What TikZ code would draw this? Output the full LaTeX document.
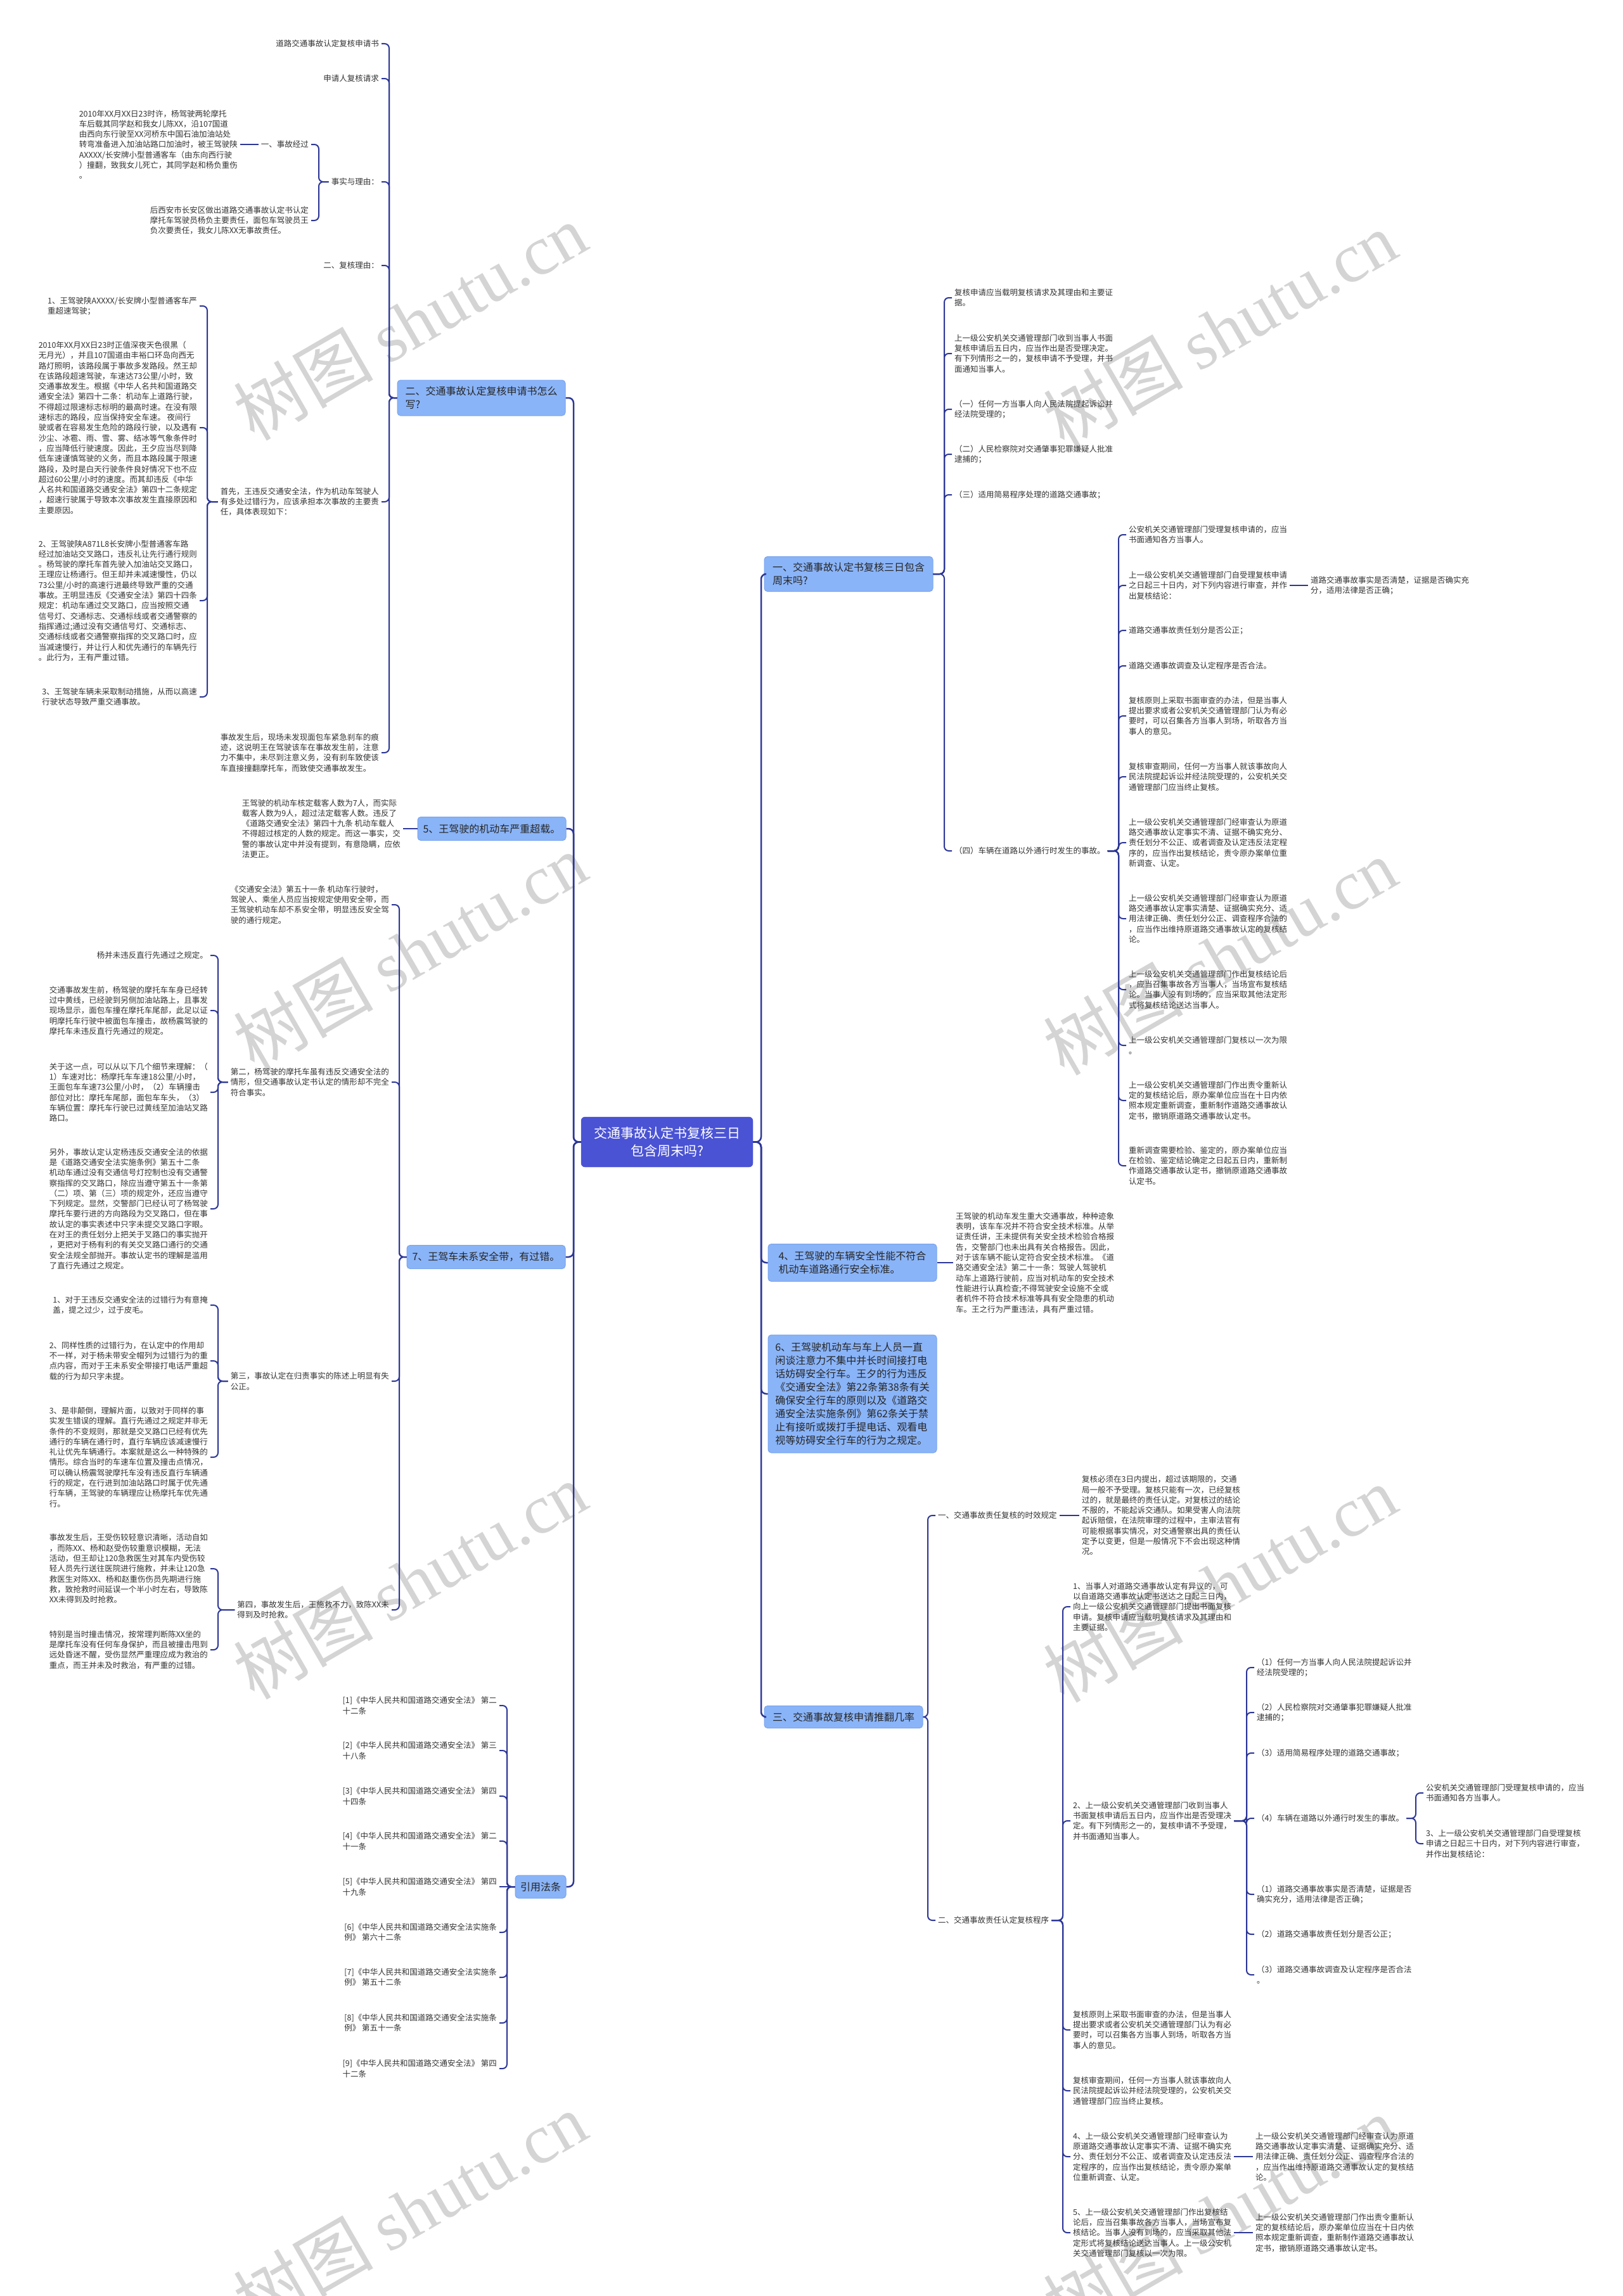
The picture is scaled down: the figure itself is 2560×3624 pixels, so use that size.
\documentclass[tikz,border=0pt]{standalone}
\usepackage{fontspec}
\setmainfont{Noto Sans CJK SC}
\newfontfamily\wmlatin{Liberation Serif}
\definecolor{lineC}{HTML}{2D3796}
\definecolor{nodeC}{HTML}{8AB4F8}
\definecolor{nodeB}{HTML}{79A4EE}
\definecolor{mainC}{HTML}{4A53D4}
\definecolor{textC}{HTML}{333333}
\definecolor{wmC}{HTML}{D4D4D4}
\newcommand\myLC[3]{\draw[conn] (#1.west) -- (#2 |- #1.west) -- (#2 |- #3.east) -- (#3.east);}
\newcommand\myRC[3]{\draw[conn] (#1.east) -- (#2 |- #1.east) -- (#2 |- #3.west) -- (#3.west);}
\begin{document}
\begin{tikzpicture}[x=1pt,y=-1pt,
  conn/.style={draw=lineC, line width=2pt, rounded corners=7pt},
  trunk/.style={draw=lineC, line width=2.5pt, rounded corners=8pt},
  leaf/.style={font=\fontsize{12.5}{16.3}\selectfont, text=textC, align=left, inner xsep=4pt, inner ysep=2pt},
  leafL/.style={leaf, anchor=east},
  leafR/.style={leaf, anchor=west},
  topic/.style={fill=nodeC, draw=nodeB, line width=1pt, rounded corners=5pt, font=\fontsize{16}{21}\selectfont, text=black!85, align=left, inner sep=0pt},
  root/.style={fill=mainC, draw=mainC, rounded corners=6pt, font=\fontsize{21}{28}\selectfont, text=white, align=center, inner sep=0pt},
  wm/.style={text=wmC, rotate=30, font=\fontsize{110}{120}\selectfont}
]
\useasboundingbox[fill=white] (0,0) rectangle (2560,3624);

% watermarks
\foreach \wx/\wy [count=\i] in {647/508,1925/520,647/1502,1925/1510,647/2495,1925/2500,647/3489,1925/3495}
  \node[wm] (wm\i) at (\wx,\wy) {树图 {\wmlatin shutu.cn}};

% coordinates of vertical lines
\coordinate (vL) at (905,0);
\coordinate (vRt) at (1201,0);
\coordinate (v2) at (614,0);
\coordinate (v3) at (503,0);
\coordinate (v5) at (327,0);
\coordinate (v7) at (630,0);
\coordinate (v8) at (344,0);
\coordinate (vR) at (800,0);
\coordinate (v1) at (1490,0);
\coordinate (v6) at (1765,0);
\coordinate (v9) at (1464,0);
\coordinate (v10) at (1677,0);
\coordinate (v11) at (1967,0);
\coordinate (v12) at (2234,0);

% root
\node[root, minimum width=271pt, minimum height=79pt] (main) at (1052.5,1802.5) {交通事故认定书复核三日\\包含周末吗?};

% topics left
\node[topic, minimum width=265pt, minimum height=56pt] (n2) at (759.5,628) {二、交通事故认定复核申请书怎么\\写?};
\node[topic, minimum width=234pt, minimum height=37pt] (n5) at (776,1308) {5、王驾驶的机动车严重超载。};
\node[topic, minimum width=250pt, minimum height=37pt] (n7) at (767,1984) {7、王驾车未系安全带，有过错。};
\node[topic, minimum width=80pt, minimum height=36pt] (nR) at (853,2978) {引用法条};
% topics right
\node[topic, minimum width=266pt, minimum height=55pt] (n1) at (1339,906) {一、交通事故认定书复核三日包含\\周末吗?};
\node[topic, minimum width=266pt, minimum height=59pt] (n4) at (1345,1993) {4、王驾驶的车辆安全性能不符合\\机动车道路通行安全标准。};
\node[topic, minimum width=266pt, minimum height=186pt] (n6) at (1345,2200) {6、王驾驶机动车与车上人员一直\\闲谈注意力不集中并长时间接打电\\话妨碍安全行车。王夕的行为违反\\《交通安全法》第22条第38条有关\\确保安全行车的原则以及《道路交\\通安全法实施条例》第62条关于禁\\止有接听或拨打手提电话、观看电\\视等妨碍安全行车的行为之规定。};
\node[topic, minimum width=250pt, minimum height=35pt] (n3) at (1331,2710) {三、交通事故复核申请推翻几率};

% ---------- left: node 二 ----------
\node[leafL] (a1) at (602,69) {道路交通事故认定复核申请书};
\node[leafL] (a2) at (602,124) {申请人复核请求};
\node[leafL] (a3) at (602,287) {事实与理由：};
\node[leafL] (a3a) at (491,228) {一、事故经过};
\node[leafL] (a3a1) at (379,228) {2010年XX月XX日23时许，杨驾驶两轮摩托\\车后载其同学赵和我女儿陈XX，沿107国道\\由西向东行驶至XX河桥东中国石油加油站处\\转弯准备进入加油站路口加油时，被王驾驶陕\\AXXXX/长安牌小型普通客车（由东向西行驶\\）撞翻，致我女儿死亡，其同学赵和杨负重伤\\。};
\node[leafL] (a3b) at (491,348) {后西安市长安区做出道路交通事故认定书认定\\摩托车驾驶员杨负主要责任，面包车驾驶员王\\负次要责任，我女儿陈XX无事故责任。};
\node[leafL] (a4) at (602,419) {二、复核理由：};
\node[leafL] (a5) at (602,792) {首先，王违反交通安全法，作为机动车驾驶人\\有多处过错行为，应该承担本次事故的主要责\\任，具体表现如下：};
\node[leafL] (a5a) at (315,483) {1、王驾驶陕AXXXX/长安牌小型普通客车严\\重超速驾驶；};
\node[leafL] (a5b) at (315,675) {2010年XX月XX日23时正值深夜天色很黑（\\无月光），并且107国道由丰裕口环岛向西无\\路灯照明，该路段属于事故多发路段。然王却\\在该路段超速驾驶，车速达73公里/小时，致\\交通事故发生。根据《中华人名共和国道路交\\通安全法》第四十二条：机动车上道路行驶，\\不得超过限速标志标明的最高时速。在没有限\\速标志的路段，应当保持安全车速。 夜间行\\驶或者在容易发生危险的路段行驶，以及遇有\\沙尘、冰雹、雨、雪、雾、结冰等气象条件时\\，应当降低行驶速度。因此，王夕应当尽到降\\低车速谨慎驾驶的义务，而且本路段属于限速\\路段，及时是白天行驶条件良好情况下也不应\\超过60公里/小时的速度。而其却违反《中华\\人名共和国道路交通安全法》第四十二条规定\\，超速行驶属于导致本次事故发生直接原因和\\主要原因。};
\node[leafL] (a5c) at (315,948) {2、王驾驶陕A871L8长安牌小型普通客车路\\经过加油站交叉路口，违反礼让先行通行规则\\。杨驾驶的摩托车首先驶入加油站交叉路口，\\王理应让杨通行。但王却并未减速慢性，仍以\\73公里/小时的高速行进最终导致严重的交通\\事故。王明显违反《交通安全法》第四十四条\\规定：机动车通过交叉路口，应当按照交通\\信号灯、交通标志、交通标线或者交通警察的\\指挥通过;通过没有交通信号灯、交通标志、\\交通标线或者交通警察指挥的交叉路口时，应\\当减速慢行，并让行人和优先通行的车辆先行\\。此行为，王有严重过错。};
\node[leafL] (a5d) at (315,1100) {3、王驾驶车辆未采取制动措施，从而以高速\\行驶状态导致严重交通事故。};
\node[leafL] (a6) at (602,1188) {事故发生后，现场未发现面包车紧急刹车的痕\\迹，这说明王在驾驶该车在事故发生前，注意\\力不集中，未尽到注意义务，没有刹车致使该\\车直接撞翻摩托车，而致使交通事故发生。};

% ---------- left: node 5 ----------
\node[leafL] (a7) at (636,1308) {王驾驶的机动车核定载客人数为7人，而实际\\载客人数为9人，超过法定载客人数。违反了\\《道路交通安全法》第四十九条 机动车载人\\不得超过核定的人数的规定。而这一事实，交\\警的事故认定中并没有提到，有意隐瞒，应依\\法更正。};

% ---------- left: node 7 ----------
\node[leafL] (b1) at (618,1428) {《交通安全法》第五十一条 机动车行驶时，\\驾驶人、乘坐人员应当按规定使用安全带，而\\王驾驶机动车却不系安全带，明显违反安全驾\\驶的通行规定。};
\node[leafL] (b2) at (618,1708) {第二，杨驾驶的摩托车虽有违反交通安全法的\\情形，但交通事故认定书认定的情形却不完全\\符合事实。};
\node[leafL] (b2a) at (332,1508) {杨并未违反直行先通过之规定。};
\node[leafL] (b2b) at (332,1595) {交通事故发生前，杨驾驶的摩托车车身已经转\\过中黄线，已经驶到另侧加油站路上，且事发\\现场显示，面包车撞在摩托车尾部，此足以证\\明摩托车行驶中被面包车撞击，故杨震驾驶的\\摩托车未违反直行先通过的规定。};
\node[leafL] (b2c) at (332,1724) {关于这一点，可以从以下几个细节来理解：（\\1）车速对比：杨摩托车车速18公里/小时，\\王面包车车速73公里/小时，（2）车辆撞击\\部位对比：摩托车尾部，面包车车头，（3）\\车辆位置：摩托车行驶已过黄线至加油站叉路\\路口。};
\node[leafL] (b2d) at (332,1908) {另外，事故认定认定杨违反交通安全法的依据\\是《道路交通安全法实施条例》第五十二条\\机动车通过没有交通信号灯控制也没有交通警\\察指挥的交叉路口，除应当遵守第五十一条第\\（二）项、第（三）项的规定外，还应当遵守\\下列规定。显然，交警部门已经认可了杨驾驶\\摩托车要行进的方向路段为交叉路口，但在事\\故认定的事实表述中只字未提交叉路口字眼。\\在对王的责任划分上把关于叉路口的事实抛开\\，更把对于杨有利的有关交叉路口通行的交通\\安全法规全部抛开。事故认定书的理解是滥用\\了直行先通过之规定。};
\node[leafL] (b3) at (618,2180) {第三，事故认定在归责事实的陈述上明显有失\\公正。};
\node[leafL] (b3a) at (332,2060) {1、对于王违反交通安全法的过错行为有意掩\\盖，提之过少，过于皮毛。};
\node[leafL] (b3b) at (332,2148) {2、同样性质的过错行为，在认定中的作用却\\不一样，对于杨未带安全帽列为过错行为的重\\点内容，而对于王未系安全带接打电话严重超\\载的行为却只字未提。};
\node[leafL] (b3c) at (332,2300) {3、是非颠倒，理解片面，以致对于同样的事\\实发生错误的理解。直行先通过之规定并非无\\条件的不变规则，那就是交叉路口已经有优先\\通行的车辆在通行时，直行车辆应该减速慢行\\礼让优先车辆通行。本案就是这么一种特殊的\\情形。综合当时的车速车位置及撞击点情况，\\可以确认杨震驾驶摩托车没有违反直行车辆通\\行的规定，在行进到加油站路口时属于优先通\\行车辆，王驾驶的车辆理应让杨摩托车优先通\\行。};
\node[leafL] (b4) at (618,2541) {第四，事故发生后，王施救不力，致陈XX未\\得到及时抢救。};
\node[leafL] (b4a) at (332,2476) {事故发生后，王受伤较轻意识清晰，活动自如\\，而陈XX、杨和赵受伤较重意识模糊，无法\\活动，但王却让120急救医生对其车内受伤较\\轻人员先行送往医院进行施救，并未让120急\\救医生对陈XX、杨和赵重伤伤员先期进行施\\救，致抢救时间延误一个半小时左右，导致陈\\XX未得到及时抢救。};
\node[leafL] (b4b) at (332,2604) {特别是当时撞击情况，按常理判断陈XX坐的\\是摩托车没有任何车身保护，而且被撞击甩到\\远处昏迷不醒，受伤显然严重理应成为救治的\\重点，而王并未及时救治，有严重的过错。};

% ---------- left: references ----------
\node[leafL] (r1) at (788,2692) {[1]《中华人民共和国道路交通安全法》 第二\\十二条};
\node[leafL] (r2) at (788,2763) {[2]《中华人民共和国道路交通安全法》 第三\\十八条};
\node[leafL] (r3) at (788,2835) {[3]《中华人民共和国道路交通安全法》 第四\\十四条};
\node[leafL] (r4) at (788,2906) {[4]《中华人民共和国道路交通安全法》 第二\\十一条};
\node[leafL] (r5) at (788,2978) {[5]《中华人民共和国道路交通安全法》 第四\\十九条};
\node[leafL] (r6) at (788,3050) {[6]《中华人民共和国道路交通安全法实施条\\例》 第六十二条};
\node[leafL] (r7) at (788,3121) {[7]《中华人民共和国道路交通安全法实施条\\例》 第五十二条};
\node[leafL] (r8) at (788,3193) {[8]《中华人民共和国道路交通安全法实施条\\例》 第五十一条};
\node[leafL] (r9) at (788,3265) {[9]《中华人民共和国道路交通安全法》 第四\\十二条};

% ---------- right: node 一 ----------
\node[leafR] (c1) at (1502,470) {复核申请应当载明复核请求及其理由和主要证\\据。};
\node[leafR] (c2) at (1502,558) {上一级公安机关交通管理部门收到当事人书面\\复核申请后五日内，应当作出是否受理决定。\\有下列情形之一的，复核申请不予受理，并书\\面通知当事人。};
\node[leafR] (c3) at (1502,646) {（一）任何一方当事人向人民法院提起诉讼并\\经法院受理的；};
\node[leafR] (c4) at (1502,717) {（二）人民检察院对交通肇事犯罪嫌疑人批准\\逮捕的；};
\node[leafR] (c5) at (1502,781) {（三）适用简易程序处理的道路交通事故；};
\node[leafR] (c6) at (1502,1343) {（四）车辆在道路以外通行时发生的事故。};
\node[leafR] (d1) at (1777,844) {公安机关交通管理部门受理复核申请的，应当\\书面通知各方当事人。};
\node[leafR] (d2) at (1777,924) {上一级公安机关交通管理部门自受理复核申请\\之日起三十日内，对下列内容进行审查，并作\\出复核结论：};
\node[leafR] (d2a) at (2064,924) {道路交通事故事实是否清楚，证据是否确实充\\分，适用法律是否正确；};
\node[leafR] (d3) at (1777,995) {道路交通事故责任划分是否公正；};
\node[leafR] (d4) at (1777,1051) {道路交通事故调查及认定程序是否合法。};
\node[leafR] (d5) at (1777,1130) {复核原则上采取书面审查的办法，但是当事人\\提出要求或者公安机关交通管理部门认为有必\\要时，可以召集各方当事人到场，听取各方当\\事人的意见。};
\node[leafR] (d6) at (1777,1226) {复核审查期间，任何一方当事人就该事故向人\\民法院提起诉讼并经法院受理的，公安机关交\\通管理部门应当终止复核。};
\node[leafR] (d7) at (1777,1330) {上一级公安机关交通管理部门经审查认为原道\\路交通事故认定事实不清、证据不确实充分、\\责任划分不公正、或者调查及认定违反法定程\\序的，应当作出复核结论，责令原办案单位重\\新调查、认定。};
\node[leafR] (d8) at (1777,1450) {上一级公安机关交通管理部门经审查认为原道\\路交通事故认定事实清楚、证据确实充分、适\\用法律正确、责任划分公正、调查程序合法的\\，应当作出维持原道路交通事故认定的复核结\\论。};
\node[leafR] (d9) at (1777,1562) {上一级公安机关交通管理部门作出复核结论后\\，应当召集事故各方当事人，当场宣布复核结\\论。当事人没有到场的，应当采取其他法定形\\式将复核结论送达当事人。};
\node[leafR] (d10) at (1777,1650) {上一级公安机关交通管理部门复核以一次为限\\。};
\node[leafR] (d11) at (1777,1737) {上一级公安机关交通管理部门作出责令重新认\\定的复核结论后，原办案单位应当在十日内依\\照本规定重新调查，重新制作道路交通事故认\\定书，撤销原道路交通事故认定书。};
\node[leafR] (d12) at (1777,1840) {重新调查需要检验、鉴定的，原办案单位应当\\在检验、鉴定结论确定之日起五日内，重新制\\作道路交通事故认定书，撤销原道路交通事故\\认定书。};

% ---------- right: node 4 ----------
\node[leafR] (e1) at (1504,1993) {王驾驶的机动车发生重大交通事故，种种迹象\\表明，该车车况并不符合安全技术标准。从举\\证责任讲，王未提供有关安全技术检验合格报\\告，交警部门也未出具有关合格报告。因此，\\对于该车辆不能认定符合安全技术标准。《道\\路交通安全法》第二十一条：驾驶人驾驶机\\动车上道路行驶前，应当对机动车的安全技术\\性能进行认真检查;不得驾驶安全设施不全或\\者机件不符合技术标准等具有安全隐患的机动\\车。王之行为严重违法，具有严重过错。};

% ---------- right: node 三 ----------
\node[leafR] (f1) at (1476,2392) {一、交通事故责任复核的时效规定};
\node[leafR] (f1a) at (1703,2392) {复核必须在3日内提出，超过该期限的，交通\\局一般不予受理。复核只能有一次，已经复核\\过的，就是最终的责任认定。对复核过的结论\\不服的，不能起诉交通队。如果受害人向法院\\起诉赔偿，在法院审理的过程中，主审法官有\\可能根据事实情况，对交通警察出具的责任认\\定予以变更，但是一般情况下不会出现这种情\\况。};
\node[leafR] (f2) at (1476,3031) {二、交通事故责任认定复核程序};
\node[leafR] (g1) at (1689,2536) {1、当事人对道路交通事故认定有异议的，可\\以自道路交通事故认定书送达之日起三日内，\\向上一级公安机关交通管理部门提出书面复核\\申请。复核申请应当载明复核请求及其理由和\\主要证据。};
\node[leafR] (g2) at (1689,2874) {2、上一级公安机关交通管理部门收到当事人\\书面复核申请后五日内，应当作出是否受理决\\定。有下列情形之一的，复核申请不予受理，\\并书面通知当事人。};
\node[leafR] (h1) at (1979,2632) {（1）任何一方当事人向人民法院提起诉讼并\\经法院受理的；};
\node[leafR] (h2) at (1979,2703) {（2）人民检察院对交通肇事犯罪嫌疑人批准\\逮捕的；};
\node[leafR] (h3) at (1979,2767) {（3）适用简易程序处理的道路交通事故；};
\node[leafR] (h4) at (1979,2870) {（4）车辆在道路以外通行时发生的事故。};
\node[leafR] (i1) at (2246,2830) {公安机关交通管理部门受理复核申请的，应当\\书面通知各方当事人。};
\node[leafR] (i2) at (2246,2910) {3、上一级公安机关交通管理部门自受理复核\\申请之日起三十日内，对下列内容进行审查，\\并作出复核结论：};
\node[leafR] (h5) at (1979,2990) {（1）道路交通事故事实是否清楚，证据是否\\确实充分，适用法律是否正确；};
\node[leafR] (h6) at (1979,3053) {（2）道路交通事故责任划分是否公正；};
\node[leafR] (h7) at (1979,3117) {（3）道路交通事故调查及认定程序是否合法\\。};
\node[leafR] (g3) at (1689,3204) {复核原则上采取书面审查的办法，但是当事人\\提出要求或者公安机关交通管理部门认为有必\\要时，可以召集各方当事人到场，听取各方当\\事人的意见。};
\node[leafR] (g4) at (1689,3300) {复核审查期间，任何一方当事人就该事故向人\\民法院提起诉讼并经法院受理的，公安机关交\\通管理部门应当终止复核。};
\node[leafR] (g5) at (1689,3404) {4、上一级公安机关交通管理部门经审查认为\\原道路交通事故认定事实不清、证据不确实充\\分、责任划分不公正、或者调查及认定违反法\\定程序的，应当作出复核结论，责令原办案单\\位重新调查、认定。};
\node[leafR] (g5a) at (1977,3404) {上一级公安机关交通管理部门经审查认为原道\\路交通事故认定事实清楚、证据确实充分、适\\用法律正确、责任划分公正、调查程序合法的\\，应当作出维持原道路交通事故认定的复核结\\论。};
\node[leafR] (g6) at (1689,3524) {5、上一级公安机关交通管理部门作出复核结\\论后，应当召集事故各方当事人，当场宣布复\\核结论。当事人没有到场的，应当采取其他法\\定形式将复核结论送达当事人。上一级公安机\\关交通管理部门复核以一次为限。};
\node[leafR] (g6a) at (1977,3524) {上一级公安机关交通管理部门作出责令重新认\\定的复核结论后，原办案单位应当在十日内依\\照本规定重新调查，重新制作道路交通事故认\\定书，撤销原道路交通事故认定书。};

% ---------- trunks ----------
\foreach \t in {n2,n5,n7,nR}
  \draw[trunk] (main.west) -- (vL |- main.west) -- (vL |- \t.east) -- (\t.east);
\foreach \t in {n1,n4,n6,n3}
  \draw[trunk] (main.east) -- (vRt |- main.east) -- (vRt |- \t.west) -- (\t.west);

% ---------- connectors left ----------
\foreach \c in {a1,a2,a3,a4,a5,a6} { \myLC{n2}{v2}{\c} }
\foreach \c in {a3a,a3b} { \myLC{a3}{v3}{\c} }
\draw[conn] (a3a.west) -- (a3a1.east);
\foreach \c in {a5a,a5b,a5c,a5d} { \myLC{a5}{v5}{\c} }
\draw[conn] (n5.west) -- (a7.east);
\foreach \c in {b1,b2,b3,b4} { \myLC{n7}{v7}{\c} }
\foreach \c in {b2a,b2b,b2c,b2d} { \myLC{b2}{v8}{\c} }
\foreach \c in {b3a,b3b,b3c} { \myLC{b3}{v8}{\c} }
\foreach \c in {b4a,b4b} { \myLC{b4}{v8}{\c} }
\foreach \c in {r1,r2,r3,r4,r6,r7,r8,r9} { \myLC{nR}{vR}{\c} }
\draw[conn] (nR.west) -- (r5.east);

% ---------- connectors right ----------
\foreach \c in {c1,c2,c3,c4,c5,c6} { \myRC{n1}{v1}{\c} }
\foreach \c in {d1,d2,d3,d4,d5,d6,d7,d8,d9,d10,d11,d12} { \myRC{c6}{v6}{\c} }
\draw[conn] (d2.east) -- (d2a.west);
\draw[conn] (n4.east) -- (e1.west);
\foreach \c in {f1,f2} { \myRC{n3}{v9}{\c} }
\draw[conn] (f1.east) -- (f1a.west);
\foreach \c in {g1,g2,g3,g4,g5,g6} { \myRC{f2}{v10}{\c} }
\foreach \c in {h1,h2,h3,h4,h5,h6,h7} { \myRC{g2}{v11}{\c} }
\foreach \c in {i1,i2} { \myRC{h4}{v12}{\c} }
\draw[conn] (g5.east) -- (g5a.west);
\draw[conn] (g6.east) -- (g6a.west);
\end{tikzpicture}
\end{document}
